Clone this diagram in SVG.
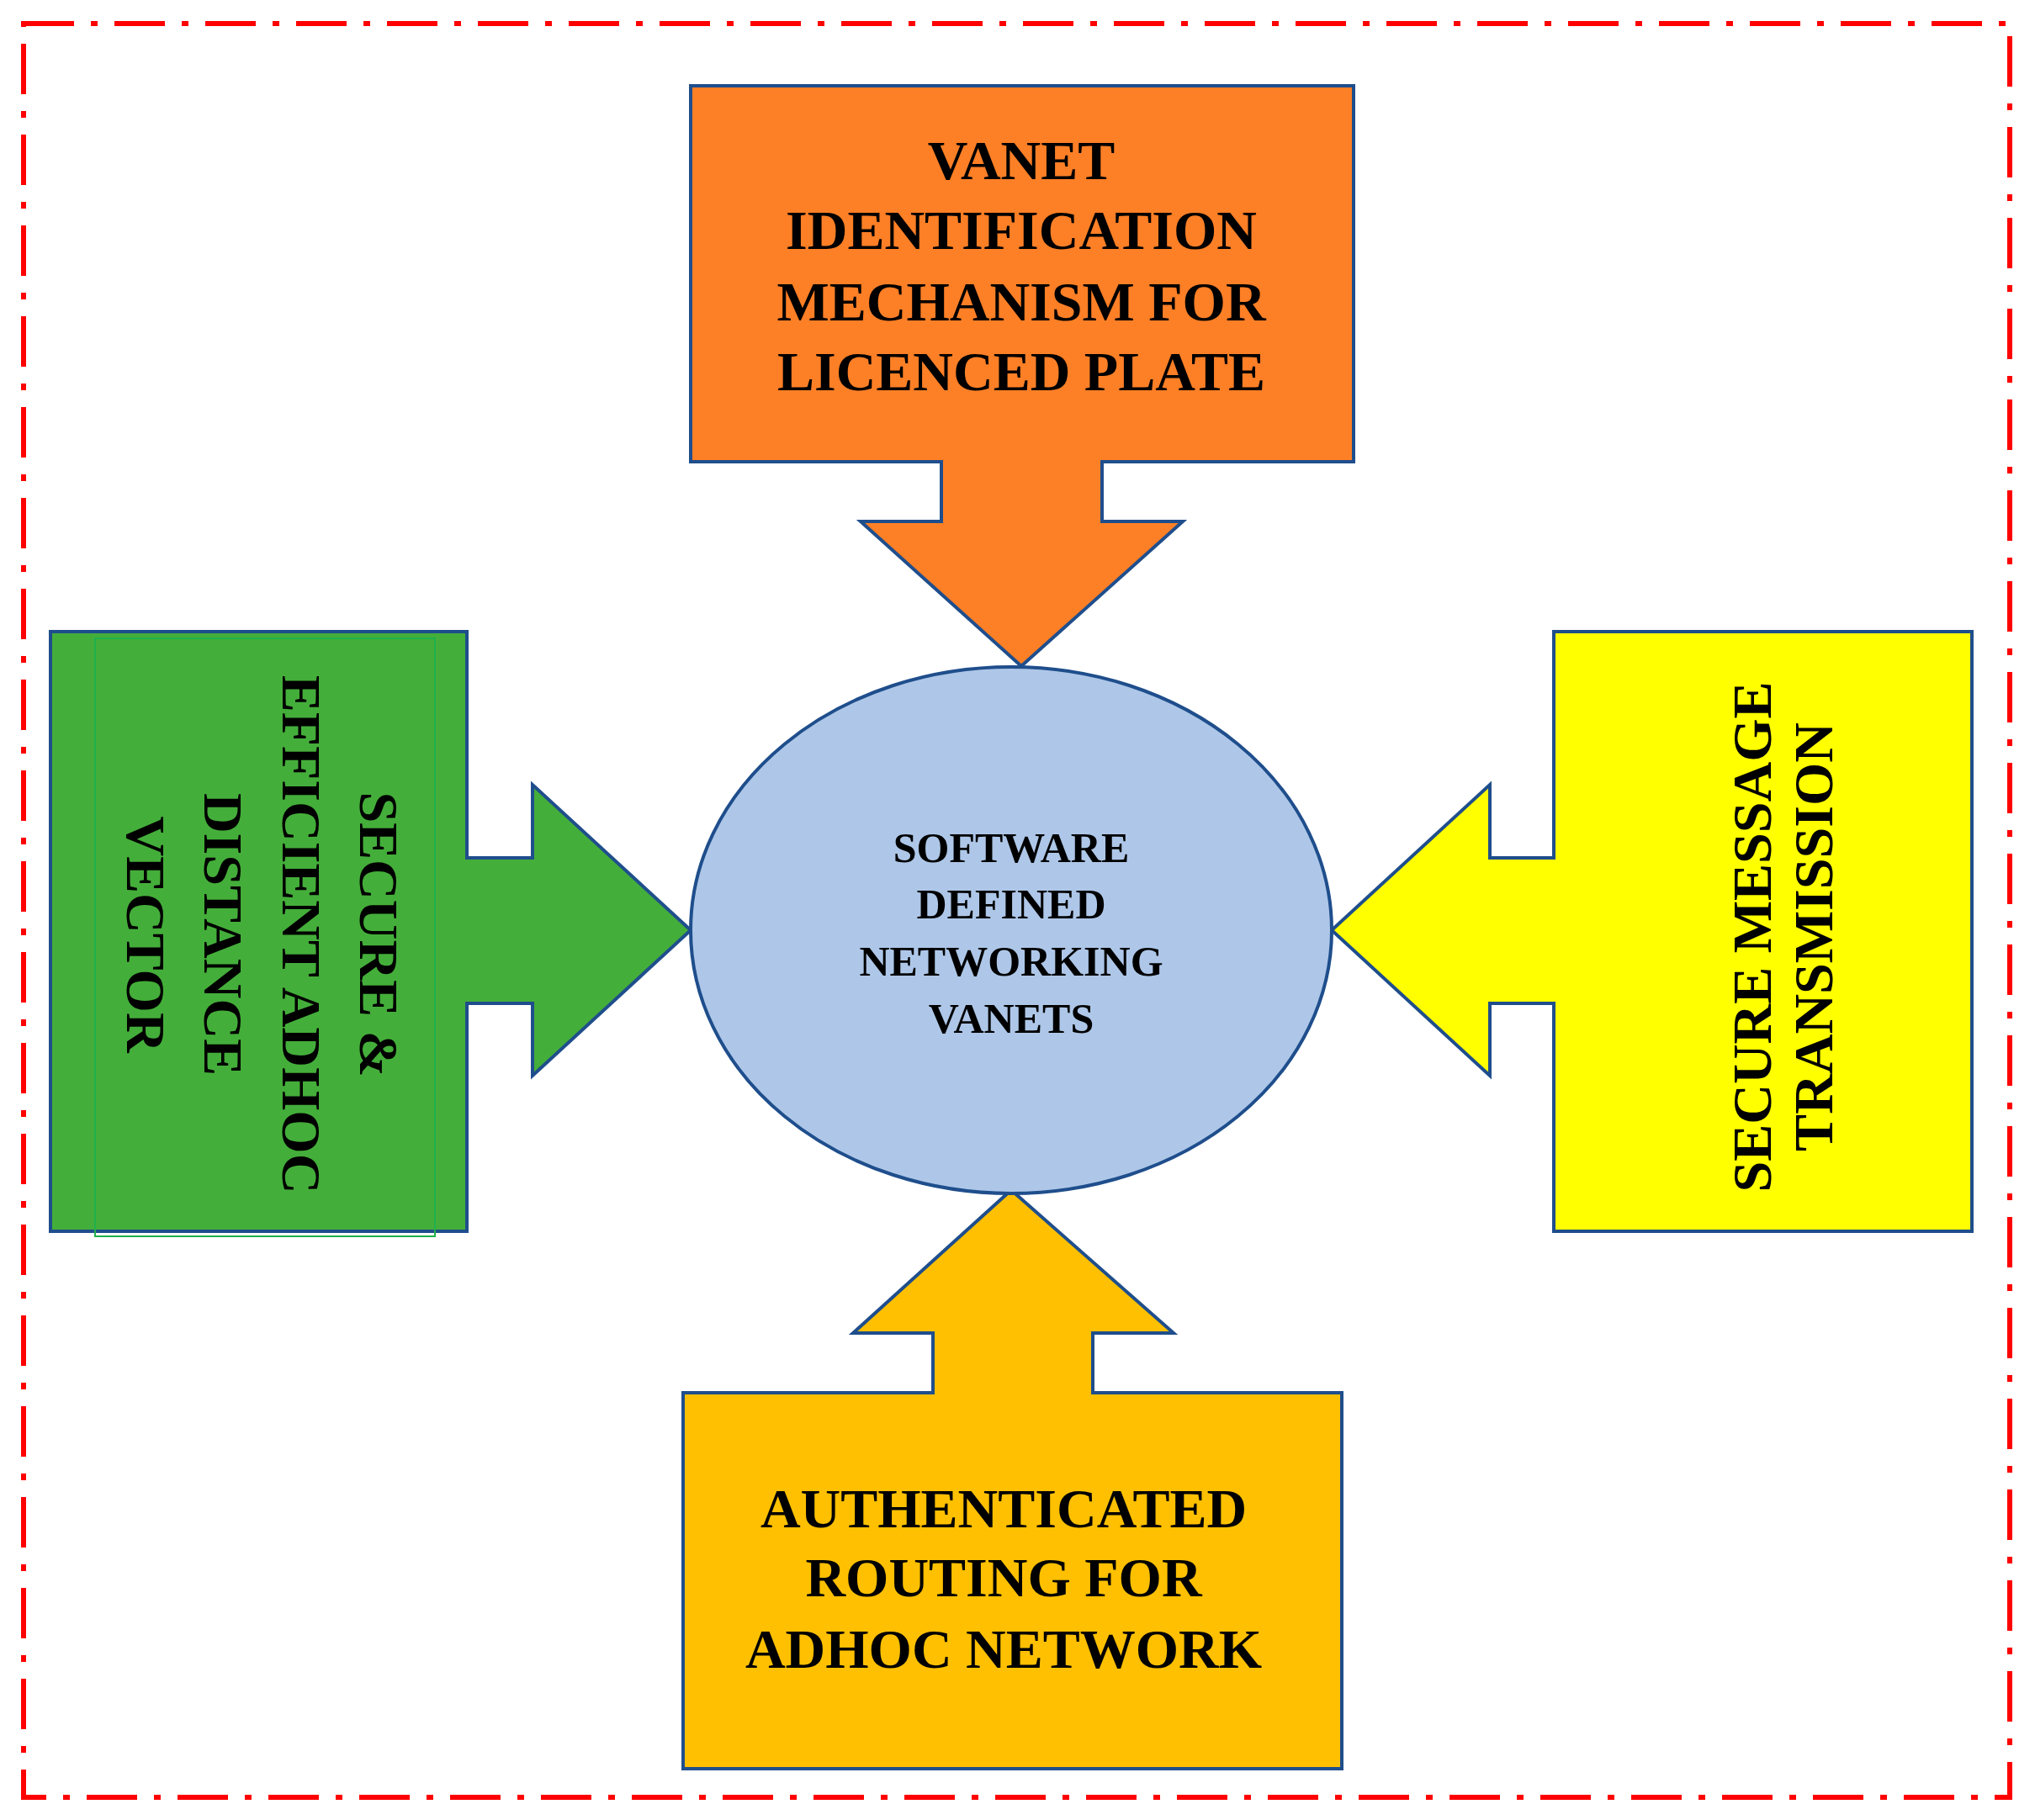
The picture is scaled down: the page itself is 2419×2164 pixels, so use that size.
<svg xmlns="http://www.w3.org/2000/svg" width="2419" height="2164" viewBox="0 0 2419 2164">
<style>
.s{stroke:#1f4e8c;stroke-width:4;stroke-linejoin:miter}
.t{font-family:"Liberation Serif","Times New Roman",serif;font-weight:bold;fill:#000;text-anchor:middle}
.b{font-size:66px}
.c{font-size:50px}
</style>
<rect width="2419" height="2164" fill="#fff"/>
<rect x="28" y="28" width="2361" height="2109" fill="none" stroke="#ff0000" stroke-width="6" stroke-dasharray="60,20,8,20"/>
<g id="connectors"></g>
<g id="top">
<path class="s" fill="#fd7f26" d="M821,102H1609V549H1310V620H1406L1214,792L1023,620H1119V549H821Z"/>
<text class="t b"><tspan x="1214" y="213">VANET</tspan><tspan x="1214" y="296">IDENTIFICATION</tspan><tspan x="1214" y="381">MECHANISM FOR</tspan><tspan x="1214" y="464">LICENCED PLATE</tspan></text>
</g>
<g id="left">
<path class="s" fill="#44ae3a" d="M60,751H555V1020H633V933L821,1106L633,1279V1193H555V1464H60Z"/>
<rect x="113" y="759" width="404" height="711" fill="none" stroke="#1fb14c" stroke-width="2"/>
<text class="t b" transform="translate(0,1111) rotate(90)"><tspan x="0" y="-428">SECURE &amp;</tspan><tspan x="0" y="-336">EFFICIENT ADHOC</tspan><tspan x="0" y="-243">DISTANCE</tspan><tspan x="0" y="-151">VECTOR</tspan></text>
</g>
<g id="right">
<path class="s" fill="#ffff00" d="M2344,751H1847V1020H1771V933L1583,1106L1771,1279V1193H1847V1464H2344Z"/>
<text class="t b" transform="translate(0,1114) rotate(-90)"><tspan x="0" y="2105">SECURE MESSAGE</tspan><tspan x="0" y="2178">TRANSMISSION</tspan></text>
</g>
<g id="bottom">
<path class="s" fill="#fec000" d="M812,2103H1595V1656H1299V1585H1395L1202,1415L1014,1585H1109V1656H812Z"/>
<text class="t b"><tspan x="1193" y="1816">AUTHENTICATED</tspan><tspan x="1193" y="1898">ROUTING FOR</tspan><tspan x="1193" y="1983">ADHOC NETWORK</tspan></text>
</g>
<g id="center">
<ellipse class="s" cx="1202" cy="1106" rx="381" ry="313" fill="#aec7e8"/>
<text class="t c"><tspan x="1202" y="1025">SOFTWARE</tspan><tspan x="1202" y="1092">DEFINED</tspan><tspan x="1202" y="1160">NETWORKING</tspan><tspan x="1202" y="1228">VANETS</tspan></text>
</g>
</svg>
